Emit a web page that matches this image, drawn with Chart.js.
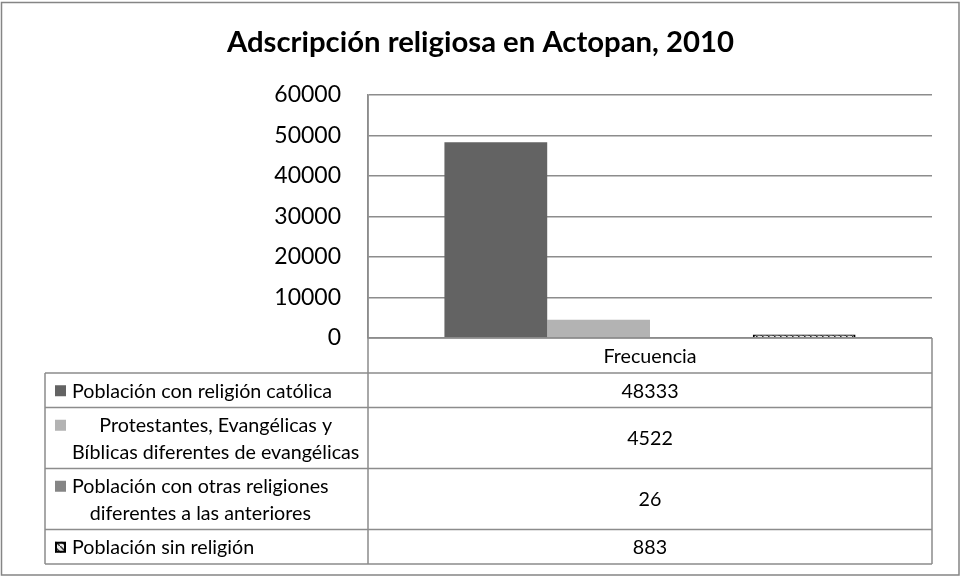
<!DOCTYPE html>
<html><head><meta charset="utf-8">
<script src="https://cdn.jsdelivr.net/npm/chart.js@4.4.1/dist/chart.umd.min.js"></script>
<style>html,body{margin:0;padding:0;background:#fff}</style>
</head><body>
<canvas id="c" width="961" height="578"></canvas>
<script>
const chartTitle = 'Adscripción religiosa en Actopan, 2010';
const categories = ['Frecuencia'];
const seriesNames = [
  ['Población con religión católica'],
  ['Protestantes, Evangélicas y', 'Bíblicas diferentes de evangélicas'],
  ['Población con otras religiones', 'diferentes a las anteriores'],
  ['Población sin religión']
];
const seriesValues = [48333, 4522, 26, 883];
const yTickValues = [0, 10000, 20000, 30000, 40000, 50000, 60000];
const seriesColors = ['#636363', '#b3b3b3', '#858585', 'pattern'];

const GRID = '#8c8c8c';
const FONT = 'Lato, "Open Sans", sans-serif';
const TFONT = '19.7px ' + FONT;

function makePattern() {
  const p = document.createElement('canvas');
  p.width = 6; p.height = 6;
  const g = p.getContext('2d');
  g.fillStyle = '#e8e8e8'; g.fillRect(0, 0, 6, 6);
  g.strokeStyle = '#303030'; g.lineWidth = 1.5;
  g.beginPath(); g.moveTo(0, 0); g.lineTo(6, 6); g.stroke();
  return g.createPattern(p, 'repeat');
}
const pat = makePattern();
const fills = seriesColors.map(c => c === 'pattern' ? pat : c);

const tablePlugin = {
  id: 'dataTable',
  afterDraw(chart) {
    const ctx = chart.ctx, a = chart.chartArea;
    const L = 45, M = a.left, R = a.right;
    const headerH = 35;
    ctx.save();
    ctx.strokeStyle = GRID; ctx.lineWidth = 1.5;
    let y0 = a.bottom;
    ctx.beginPath();
    ctx.moveTo(M, y0); ctx.lineTo(R, y0);
    ctx.stroke();
    ctx.fillStyle = '#000';
    ctx.font = TFONT;
    ctx.textAlign = 'center'; ctx.textBaseline = 'middle';
    ctx.fillText(categories[0], (M + R) / 2, y0 + headerH / 2 + 1);
    let y = y0 + headerH;
    const rowTops = [y];
    seriesNames.forEach((lines, i) => {
      const h = 8 + 26.5 * lines.length;
      ctx.font = TFONT;
      const maxW = Math.max(...lines.map(t => ctx.measureText(t).width));
      const tx = 72, cx = tx + maxW / 2;
      const lineH = 26.5;
      const firstY = y + h / 2 - (lines.length - 1) * lineH / 2;
      ctx.fillStyle = '#000';
      ctx.textAlign = 'center';
      lines.forEach((t, k) => ctx.fillText(t, cx, firstY + k * lineH + 1));
      const ky = firstY - 5;
      if (seriesColors[i] === 'pattern') {
        ctx.fillStyle = pat; ctx.fillRect(55, ky, 11, 11);
        ctx.strokeStyle = '#000'; ctx.lineWidth = 2;
        ctx.strokeRect(56, ky + 1, 9, 9);
        ctx.strokeStyle = GRID; ctx.lineWidth = 1.5;
      } else {
        ctx.fillStyle = fills[i]; ctx.fillRect(55, ky, 11, 11);
      }
      ctx.fillStyle = '#000';
      ctx.fillText(String(seriesValues[i]), (M + R) / 2, y + h / 2 + 1);
      y += h;
      rowTops.push(y);
    });
    ctx.beginPath();
    rowTops.forEach(t => { ctx.moveTo(L, t); ctx.lineTo(R, t); });
    ctx.moveTo(L, rowTops[0]); ctx.lineTo(L, y);
    ctx.moveTo(M, a.top); ctx.lineTo(M, y);
    ctx.moveTo(R, y0); ctx.lineTo(R, y);
    ctx.stroke();
    ctx.strokeStyle = '#858585'; ctx.lineWidth = 1.5;
    ctx.strokeRect(1.5, 2.5, 957.5, 572.5);
    ctx.restore();
  }
};

new Chart(document.getElementById('c'), {
  type: 'bar',
  data: {
    labels: categories,
    datasets: seriesValues.map((v, i) => ({
      label: seriesNames[i].join(' '),
      data: [v],
      backgroundColor: fills[i],
      borderColor: seriesColors[i] === 'pattern' ? '#000' : fills[i],
      borderWidth: seriesColors[i] === 'pattern' ? 2 : 0
    }))
  },
  options: {
    responsive: false,
    devicePixelRatio: 1,
    animation: false,
    events: [],
    layout: { padding: { left: 0, right: 0, top: 0, bottom: 240 } },
    datasets: { bar: { categoryPercentage: 0.729, barPercentage: 1 } },
    plugins: {
      legend: { display: false },
      tooltip: { enabled: false },
      title: {
        display: true, text: chartTitle, color: '#000',
        font: { family: FONT, size: 29.3, weight: 'bold', lineHeight: 1.2 },
        padding: { top: 25, bottom: 34.8 }
      }
    },
    scales: {
      x: { display: false },
      y: {
        min: 0, max: 60000,
        afterBuildTicks: s => { s.ticks = yTickValues.map(v => ({ value: v })); },
        afterFit: s => { s.width = 368; },
        ticks: { color: '#000', font: { family: FONT, size: 23 }, padding: 27, callback: v => String(v) },
        grid: { color: GRID, lineWidth: 1.5, drawTicks: false },
        border: { display: true, color: GRID, width: 1.5 }
      },
      yR: {
        position: 'right', min: 0, max: 60000,
        afterFit: s => { s.width = 29; },
        ticks: { display: false },
        grid: { display: false, drawTicks: false },
        border: { display: false }
      }
    }
  },
  plugins: [tablePlugin]
});
</script>
</body></html>
